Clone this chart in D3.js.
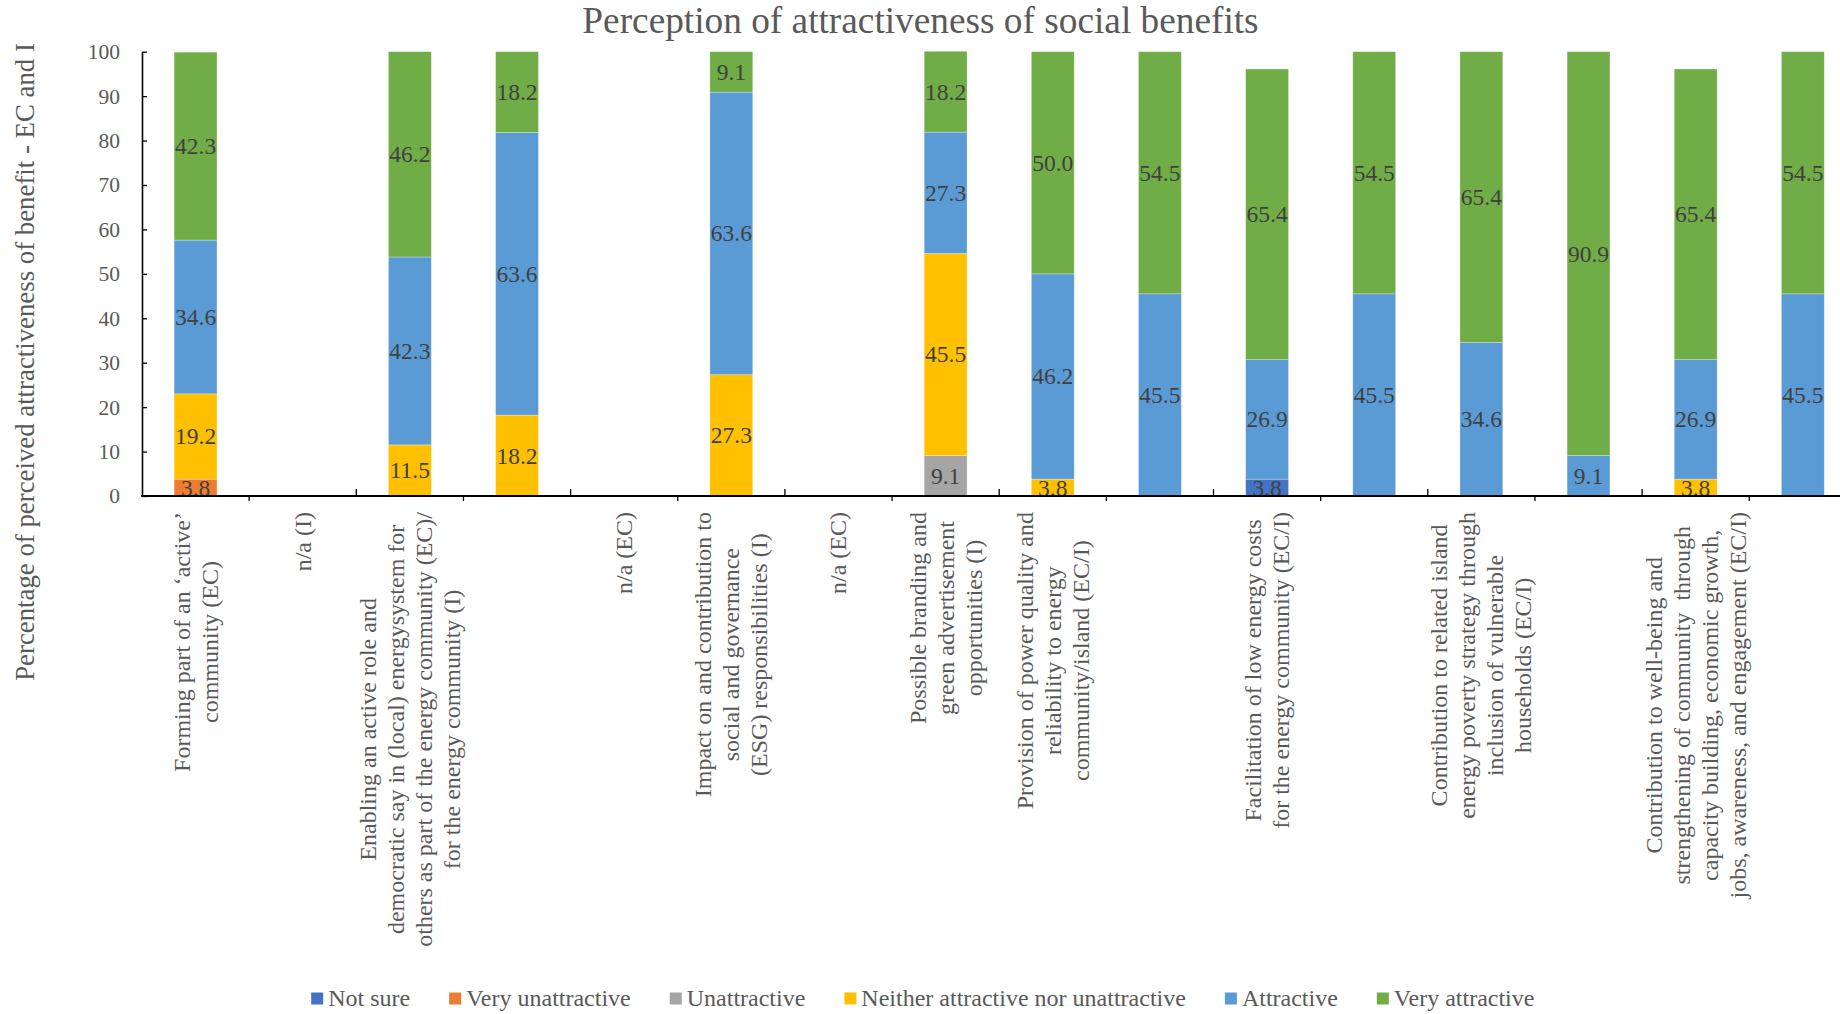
<!DOCTYPE html>
<html>
<head>
<meta charset="utf-8">
<script src="https://cdn.jsdelivr.net/npm/d3@7/dist/d3.min.js"></script>
<style>
  html, body { margin: 0; padding: 0; background: #fff; overflow: hidden; }
  svg { display: block; font-family: "Liberation Serif", "Times New Roman", serif; }
</style>
</head>
<body>
<svg id="chart" width="1840" height="1014"></svg>
<script>
// Category labels (one slot per bar; "\n" marks a line break, "" = no label)
const categories = [
  "Forming part of an \u2018active\u2019\ncommunity (EC)",
  "n/a (I)",
  "Enabling an active role and\ndemocratic say in (local) energysystem for\nothers as part of the energy community (EC)/\nfor the energy community (I)",
  "",
  "n/a (EC)",
  "Impact on and contribution to\nsocial and governance\n(ESG) responsibilities (I)",
  "n/a (EC)",
  "Possible branding and\ngreen advertisement\nopportunities (I)",
  "Provision of power quality and\nreliability to energy\ncommunity/island (EC/I)",
  "",
  "Facilitation of low energy costs\nfor the energy community (EC/I)",
  "",
  "Contribution to related island\nenergy poverty strategy through\ninclusion of vulnerable\nhouseholds (EC/I)",
  "",
  "Contribution to well-being and\nstrengthening of community  through\ncapacity building, economic growth,\njobs, awareness, and engagement (EC/I)",
  ""
];

const seriesNames = ["Not sure", "Very unattractive", "Unattractive",
  "Neither attractive nor unattractive", "Attractive", "Very attractive"];
const seriesColors = ["#4472C4", "#ED7D31", "#A5A5A5", "#FFC000", "#5B9BD5", "#70AD47"];

// Percentages per slot, one array per response
const notSure          = [0, 0, 0, 0, 0, 0, 0, 0, 0, 0, 3.8, 0, 0, 0, 0, 0];
const veryUnattractive = [3.8, 0, 0, 0, 0, 0, 0, 0, 0, 0, 0, 0, 0, 0, 0, 0];
const unattractive     = [0, 0, 0, 0, 0, 0, 0, 9.1, 0, 0, 0, 0, 0, 0, 0, 0];
const neither          = [19.2, 0, 11.5, 18.2, 0, 27.3, 0, 45.5, 3.8, 0, 0, 0, 0, 0, 3.8, 0];
const attractive       = [34.6, 0, 42.3, 63.6, 0, 63.6, 0, 27.3, 46.2, 45.5, 26.9, 45.5, 34.6, 9.1, 26.9, 45.5];
const veryAttractive   = [42.3, 0, 46.2, 18.2, 0, 9.1, 0, 18.2, 50.0, 54.5, 65.4, 54.5, 65.4, 90.9, 65.4, 54.5];

const yTicks = [0, 10, 20, 30, 40, 50, 60, 70, 80, 90, 100];

const titleText = "Perception of attractiveness of social benefits";
const yTitleText = "Percentage of perceived attractiveness of benefit - EC and I";

// ---- build the table used by d3.stack
const seriesValues = [notSure, veryUnattractive, unattractive, neither, attractive, veryAttractive];
const rows = categories.map((c, i) => {
  const r = { idx: i };
  seriesNames.forEach((s, k) => { r[s] = seriesValues[k][i]; });
  return r;
});
const stacked = d3.stack().keys(seriesNames)(rows);

const svg = d3.select("#chart");
const textColor = "#595959";

const plot = { left: 142, top: 51.7, bottom: 496, step: 107.15 };
const x = d3.scaleBand()
  .domain(d3.range(categories.length))
  .range([plot.left, plot.left + plot.step * categories.length])
  .paddingInner(0.6)
  .paddingOuter(0.3);
const y = d3.scaleLinear().domain([0, 100]).range([plot.bottom, plot.top]);

// ---- title
svg.append("text")
  .attr("x", 920.5).attr("y", 33)
  .attr("text-anchor", "middle")
  .attr("font-size", 37.3)
  .attr("fill", textColor)
  .text(titleText);

// ---- y axis title
svg.append("text")
  .attr("transform", `translate(33.5,362) rotate(-90)`)
  .attr("text-anchor", "middle")
  .attr("font-size", 26.8)
  .attr("fill", textColor)
  .text(yTitleText);

// ---- bars
const layer = svg.append("g").selectAll("g")
  .data(stacked)
  .join("g")
  .attr("fill", (d, k) => seriesColors[k]);

layer.selectAll("rect")
  .data(d => d.filter(p => p[1] - p[0] > 0))
  .join("rect")
  .attr("x", p => x(p.data.idx))
  .attr("width", x.bandwidth())
  .attr("y", p => y(p[1]))
  .attr("height", p => y(p[0]) - y(p[1]))
  .attr("stroke", "#ffffff")
  .attr("stroke-opacity", 0.45)
  .attr("stroke-width", 0.6);

// ---- data labels, centred in each segment
const fmt = d3.format(".1f");
layer.selectAll("text")
  .data(d => d.filter(p => p[1] - p[0] > 0))
  .join("text")
  .attr("x", p => x(p.data.idx) + x.bandwidth() / 2)
  .attr("y", p => y((p[0] + p[1]) / 2))
  .attr("dy", "0.34em")
  .attr("text-anchor", "middle")
  .attr("font-size", 23.5)
  .attr("fill", "#404040")
  .text(p => fmt(p[1] - p[0]));

// ---- y axis (ticks point inward)
const yAxis = svg.append("g")
  .attr("transform", `translate(${plot.left},0)`)
  .call(d3.axisLeft(y).tickValues(yTicks).tickSize(-5).tickSizeOuter(0).tickPadding(22));
yAxis.select(".domain").attr("stroke", "#000").attr("stroke-width", 1.6);
yAxis.selectAll(".tick line").attr("stroke", "#000").attr("stroke-width", 1.3);
yAxis.selectAll(".tick text")
  .attr("font-family", "Liberation Serif, Times New Roman, serif")
  .attr("font-size", 21.5)
  .attr("fill", textColor);

// ---- category axis line and slot dividers
const xAxis = svg.append("g");
xAxis.append("line")
  .attr("x1", plot.left - 0.8).attr("x2", 1840)
  .attr("y1", plot.bottom).attr("y2", plot.bottom)
  .attr("stroke", "#000").attr("stroke-width", 1.8);
const boundaries = d3.range(1, categories.length);
xAxis.selectAll("line.div")
  .data(boundaries)
  .join("line")
  .attr("class", "div")
  .attr("x1", k => x(k) - x.step() * x.paddingInner() / 2)
  .attr("x2", k => x(k) - x.step() * x.paddingInner() / 2)
  .attr("y1", k => k % 2 ? plot.bottom : plot.bottom - 7)
  .attr("y2", k => k % 2 ? plot.bottom + 5 : plot.bottom)
  .attr("stroke", "#000").attr("stroke-width", 1.3);

// ---- rotated, multi-line category labels
const lineGap = 28;
const labelTop = 512;
const measure = svg.append("text").attr("font-size", 24).attr("visibility", "hidden");
categories.forEach((label, i) => {
  if (!label) return;
  const lines = label.split("\n");
  const widths = lines.map(l => { measure.text(l); return measure.node().getComputedTextLength(); });
  const W = d3.max(widths);
  const cx = x(i) + x.bandwidth() / 2;
  const g = svg.append("g").attr("transform", `translate(${cx},${labelTop}) rotate(-90)`);
  lines.forEach((l, j) => {
    g.append("text")
      .attr("x", -W / 2)
      .attr("y", (j - (lines.length - 1) / 2) * lineGap + 8)
      .attr("text-anchor", "middle")
      .attr("font-size", 24)
      .attr("fill", textColor)
      .style("white-space", "pre")
      .text(l);
  });
});
measure.remove();

// ---- legend, centred under the chart
const legend = svg.append("g");
const gapBetween = 39;
let cursor = 0;
seriesNames.forEach((name, k) => {
  const g = legend.append("g");
  g.append("rect").attr("x", 0).attr("y", -6).attr("width", 12).attr("height", 12)
    .attr("fill", seriesColors[k]);
  const t = g.append("text").attr("x", 17).attr("y", 0).attr("dy", "0.33em")
    .attr("font-size", 24).attr("fill", textColor).text(name);
  const w = 17 + t.node().getComputedTextLength();
  g.attr("transform", `translate(${cursor},0)`);
  cursor += w + gapBetween;
});
const legendWidth = cursor - gapBetween;
legend.attr("transform", `translate(${922.8 - legendWidth / 2},998.5)`);
</script>
</body>
</html>
